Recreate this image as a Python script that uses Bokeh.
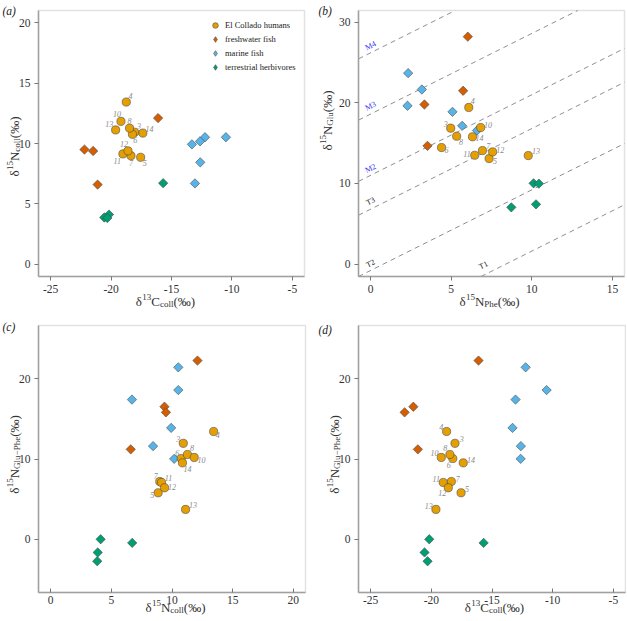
import math
from bokeh.plotting import figure
from bokeh.models import Range1d, FixedTicker, Label, Legend, LegendItem, BoxAnnotation
from bokeh.layouts import gridplot
from bokeh.embed import file_html
from bokeh.resources import INLINE
from bokeh.core.properties import value

# ---------------- data ----------------
group_names = ["El Collado humans", "freshwater fish", "marine fish", "terrestrial herbivores"]

human_ids = ["3", "4", "5", "6", "7", "8", "10", "11", "12", "13", "14"]
human_d13c_coll = [-18.05, -18.74, -17.55, -18.23, -18.35, -18.47, -19.18, -19.02, -18.60, -19.62, -17.37]
human_d15n_coll = [10.93, 13.43, 8.86, 10.76, 8.99, 11.27, 11.83, 9.14, 9.39, 11.12, 10.86]
human_d15n_phe = [4.97, 6.09, 7.35, 4.40, 6.94, 5.34, 6.83, 6.46, 7.57, 9.78, 6.32]
human_d15n_glu = [16.85, 19.42, 13.08, 14.45, 14.07, 15.85, 16.93, 13.49, 13.91, 13.45, 15.78]
human_d15n_glu_phe = [11.95, 13.42, 5.80, 10.06, 7.20, 10.56, 10.19, 7.08, 6.42, 3.73, 9.52]

fresh_d13c_coll = [-16.11, -21.48, -22.20, -21.11]
fresh_d15n_coll = [12.10, 9.38, 9.50, 6.60]
fresh_d15n_phe = [6.03, 3.34, 5.74, 3.53]
fresh_d15n_glu = [28.20, 19.79, 21.49, 14.66]
fresh_d15n_glu_phe = [22.24, 16.50, 15.80, 11.20]

marine_d13c_coll = [-12.23, -10.50, -13.06, -13.31, -12.62, -12.64]
marine_d15n_coll = [10.52, 10.52, 6.70, 9.93, 8.44, 10.18]
marine_d15n_phe = [2.33, 3.18, 2.29, 5.08, 5.68, 6.60]
marine_d15n_glu = [23.68, 21.65, 19.63, 18.88, 17.14, 16.56]
marine_d15n_glu_phe = [21.40, 18.57, 17.39, 13.87, 11.60, 10.02]

terr_d13c_coll = [-20.17, -20.56, -20.31, -15.69]
terr_d15n_coll = [4.12, 3.88, 3.84, 6.72]
terr_d15n_phe = [10.11, 8.73, 10.26, 10.44]
terr_d15n_glu = [10.01, 7.03, 7.40, 9.97]
terr_d15n_glu_phe = [0.02, -1.62, -2.71, -0.43]

# trophic-level reference lines (panel b): Glu = Phe + intercept
trophic_names = ["T1", "T2", "T3", "M2", "M3", "M4"]
trophic_intercepts = [-8.4, -0.8, 6.8, 11.0, 18.6, 26.2]

# axis extents and ticks
c13_extent = (-26, -4)
ncoll_extent_a = (-1, 21)
phe_extent = (-0.75, 15.75)
glu_extent = (-1.55, 31.45)
ncoll_extent_c = (-1, 21)
gp_extent = (-6.6, 26.6)

c13_ticks = [-25, -20, -15, -10, -5]
c13_tick_labels = ["-25", "-20", "-15", "-10", "-5"]
ncoll_ticks_a = [0, 5, 10, 15, 20]
ncoll_tick_labels_a = ["0", "5", "10", "15", "20"]
phe_ticks = [0, 5, 10, 15]
phe_tick_labels = ["0", "5", "10", "15"]
glu_ticks = [0, 10, 20, 30]
glu_tick_labels = ["0", "10", "20", "30"]
ncoll_ticks_c = [0, 5, 10, 15, 20]
ncoll_tick_labels_c = ["0", "5", "10", "15", "20"]
gp_ticks = [0, 10, 20]
gp_tick_labels = ["0", "10", "20"]

# ---------------- style ----------------
FONT = "Liberation Serif"
COL_HUMAN = "#E69F00"
COL_FRESH = "#D55E00"
COL_MARINE = "#56B4E9"
COL_TERR = "#009E73"
EDGE = "#4a4a4a"
FRAME = "#a0a0a0"
FS_MAIN = 13
FS_SCRIPT = 9

CHAR_W = {"δ": 0.50, "C": 0.667, "N": 0.722, "c": 0.444, "o": 0.5, "l": 0.278, "G": 0.722,
          "u": 0.5, "P": 0.556, "h": 0.5, "e": 0.444, "−": 0.564, "(": 0.333, ")": 0.333,
          "‰": 1.0}


def text_w(s, size):
    return sum(CHAR_W.get(ch, 0.5) for ch in s) * size


def make_fig(width, height, box_px, xext, yext, xticks, xlabels, yticks, ylabels, xtick_in=False):
    """box_px = (left, right, top, bottom) of the plot box in figure pixels (from top-left)."""
    L, R, T, B = box_px
    sx = (xext[1] - xext[0]) / (R - L)
    sy = (yext[1] - yext[0]) / (B - T)
    xr = (xext[0] - L * sx, xext[1] + (width - R) * sx)
    yr = (yext[0] - (height - B) * sy, yext[1] + T * sy)
    p = figure(width=width, height=height, x_range=Range1d(*xr), y_range=Range1d(*yr),
               output_backend="svg", toolbar_location=None, title=None,
               min_border_left=0, min_border_right=0, min_border_top=0, min_border_bottom=0)
    p.grid.visible = False
    p.outline_line_color = None
    p.background_fill_color = "white"
    p.border_fill_color = "white"
    for ax, ticks, labels, loc, ext in ((p.xaxis[0], xticks, xlabels, yext[0], xext),
                                        (p.yaxis[0], yticks, ylabels, xext[0], yext)):
        ax.fixed_location = loc
        ax.bounds = ext
        ax.ticker = FixedTicker(ticks=ticks)
        ax.major_label_overrides = {tk: lb for tk, lb in zip(ticks, labels)}
        ax.axis_line_color = FRAME
        ax.axis_line_width = 1.5
        ax.major_tick_in = 0
        ax.major_tick_out = 4
        ax.major_tick_line_color = "#777777"
        ax.minor_tick_line_color = None
        ax.major_label_text_font = FONT
        ax.major_label_text_font_size = "11.5px"
        ax.major_label_text_color = "#333333"
        ax.major_label_standoff = 4
    if xtick_in:
        p.xaxis[0].major_tick_in = 4
        p.xaxis[0].major_tick_out = 0
        p.xaxis[0].major_label_standoff = 3
    p.add_layout(BoxAnnotation(left=xext[0], right=xext[1], bottom=yext[0], top=yext[1],
                               fill_alpha=0, line_color=FRAME, line_width=1.5, level="underlay"))
    return p


def add_text(p, text, x, y, size, angle=0.0, italic=False, color="#333333"):
    p.add_layout(Label(x=x, y=y, x_units="screen", y_units="screen", text=text, angle=angle,
                       text_font=FONT, text_font_size=f"{size}px",
                       text_font_style="italic" if italic else "normal",
                       text_color=color, text_align="left", text_baseline="alphabetic"))


def rich_label(p, parts, axis, center, base):
    sizes = [FS_MAIN if k == 0 else FS_SCRIPT for _, k in parts]
    total = sum(text_w(tx, fs) for (tx, _), fs in zip(parts, sizes))
    cum = 0.0
    for (tx, k), fs in zip(parts, sizes):
        shift = {0: 0.0, 1: 4.5, -1: -2.5}[k]
        if axis == "x":
            add_text(p, tx, center - total / 2 + cum, base + shift, fs)
        else:
            add_text(p, tx, base - shift, center - total / 2 + cum, fs, angle=math.pi / 2)
        cum += text_w(tx, fs)


def draw_groups(p, hx, hy, fx, fy, mx, my, tx, ty, label_offsets):
    kw_d = dict(marker="square", angle=math.pi / 4, size=6.6, line_color=EDGE, line_width=0.6)
    p.scatter(tx, ty, fill_color=COL_TERR, **kw_d)
    p.scatter(mx, my, fill_color=COL_MARINE, **kw_d)
    p.scatter(fx, fy, fill_color=COL_FRESH, **kw_d)
    r_h = p.scatter(hx, hy, marker="circle", size=8.2, fill_color=COL_HUMAN,
                    line_color=EDGE, line_width=0.6)
    dx = [label_offsets[i][0] for i in human_ids]
    dy = [label_offsets[i][1] for i in human_ids]
    p.text(hx, hy, text=human_ids, x_offset=dx, y_offset=dy,
           text_font=value(FONT), text_font_style="italic", text_font_size="8px",
           text_color="#8a8a8a", text_align="center", text_baseline="middle")
    return r_h


# label offsets (px, y down) for the human sample numbers in each panel
offs_a = {"3": (4.3, -6.3), "4": (4.3, -5.7), "5": (4, 6), "6": (2.7, 5.7), "7": (0, 7),
          "8": (0, -7), "10": (-4, -7.3), "11": (-5.7, 6.7), "12": (-4, -7.3),
          "13": (-6.5, -6), "14": (6.7, -4.3)}
offs_b = {"3": (-5, -4.3), "4": (4, -6), "5": (6, 2.7), "6": (5, 2.7), "7": (5.7, -5),
          "8": (4.3, 5.7), "10": (7.3, -3), "11": (-7.7, -1), "12": (7.7, -1.7),
          "13": (7.7, -4.7), "14": (7, 1)}
offs_c = {"3": (-5, -4.3), "4": (4, 4), "5": (-6, 2.3), "6": (-4, -6), "7": (-4, -5.3),
          "8": (4.7, -6), "10": (7.3, 3), "11": (7, -4), "12": (7.3, -1), "13": (7.3, -4.3),
          "14": (5, 6)}
offs_d = {"3": (6.7, -4), "4": (-5.3, -4.3), "5": (6, -3.3), "6": (-4, 6), "7": (6.3, -2.3),
          "8": (-4.7, -6), "10": (-6.7, -4.7), "11": (-7, -3), "12": (-6, 5.3),
          "13": (-7.3, -3.3), "14": (7.7, -3.3)}

# ---------------- panels ----------------
W1, W2, H1, H2 = 312, 314, 310, 310
BOX_A = (38, 304, 10, 276)
BOX_B = (46, 312, 10, 276)
BOX_C = (38, 305, 15, 282)
BOX_D = (46, 313, 15, 282)

pa = make_fig(W1, H1, BOX_A, c13_extent, ncoll_extent_a,
              c13_ticks, c13_tick_labels, ncoll_ticks_a, ncoll_tick_labels_a)
pb = make_fig(W2, H1, BOX_B, phe_extent, glu_extent,
              phe_ticks, phe_tick_labels, glu_ticks, glu_tick_labels)
pc = make_fig(W1, H2, BOX_C, ncoll_extent_c, gp_extent,
              ncoll_ticks_c, ncoll_tick_labels_c, gp_ticks, gp_tick_labels, xtick_in=True)
pd = make_fig(W2, H2, BOX_D, c13_extent, gp_extent,
              c13_ticks, c13_tick_labels, gp_ticks, gp_tick_labels, xtick_in=True)

# (a)
r_h = draw_groups(pa, human_d13c_coll, human_d15n_coll, fresh_d13c_coll, fresh_d15n_coll,
                  marine_d13c_coll, marine_d15n_coll, terr_d13c_coll, terr_d15n_coll, offs_a)
# legend keys (diamond glyphs, no visible data)
kw_key = dict(marker="diamond", size=8, line_color=EDGE, line_width=0.6)
nan = float("nan")
k_f = pa.scatter(x=[nan], y=[nan], fill_color=COL_FRESH, **kw_key)
k_m = pa.scatter(x=[nan], y=[nan], fill_color=COL_MARINE, **kw_key)
k_t = pa.scatter(x=[nan], y=[nan], fill_color=COL_TERR, **kw_key)
legend = Legend(items=[LegendItem(label=n, renderers=[r], index=0)
                       for n, r in zip(group_names, [r_h, k_f, k_m, k_t])],
                location=(208, 236), border_line_color=None, background_fill_alpha=0,
                label_text_font=FONT, label_text_font_size="8.5px", label_text_color="#222222",
                glyph_width=14, glyph_height=14, label_height=14, spacing=0, padding=0,
                margin=0, label_standoff=3)
pa.add_layout(legend)

# (b) trophic lines, clipped to the plot box
bx0, bx1 = phe_extent
by0, by1 = glu_extent
x0s, y0s, x1s, y1s = [], [], [], []
for b in trophic_intercepts:
    xs, xe = max(bx0, by0 - b), min(bx1, by1 - b)
    x0s.append(xs); y0s.append(xs + b); x1s.append(xe); y1s.append(xe + b)
pb.segment(x0s, y0s, x1s, y1s, line_color="#8f8f8f", line_dash="5 4", line_width=1)
box_w_b = BOX_B[1] - BOX_B[0]
box_h_b = BOX_B[3] - BOX_B[2]
line_angle = math.atan((box_h_b / (by1 - by0)) / (box_w_b / (bx1 - bx0)))
trophic_label_x = [7.0, 0.0, 0.0, 0.0, 0.0, 0.0]
trophic_label_dy = [-10, -7, -8, -7, -8, -7]
trophic_label_col = ["#222222", "#222222", "#222222", "#3a3af0", "#3a3af0", "#3a3af0"]
pb.text(trophic_label_x, [x + b for x, b in zip(trophic_label_x, trophic_intercepts)],
        text=trophic_names, angle=line_angle, y_offset=trophic_label_dy,
        text_color=trophic_label_col, text_font=value(FONT), text_font_size="8px",
        text_align="center", text_baseline="middle")
draw_groups(pb, human_d15n_phe, human_d15n_glu, fresh_d15n_phe, fresh_d15n_glu,
            marine_d15n_phe, marine_d15n_glu, terr_d15n_phe, terr_d15n_glu, offs_b)

# (c)
draw_groups(pc, human_d15n_coll, human_d15n_glu_phe, fresh_d15n_coll, fresh_d15n_glu_phe,
            marine_d15n_coll, marine_d15n_glu_phe, terr_d15n_coll, terr_d15n_glu_phe, offs_c)
# (d)
draw_groups(pd, human_d13c_coll, human_d15n_glu_phe, fresh_d13c_coll, fresh_d15n_glu_phe,
            marine_d13c_coll, marine_d15n_glu_phe, terr_d13c_coll, terr_d15n_glu_phe, offs_d)

# axis labels with super/subscripts (figure pixels, y measured from the bottom)
lab_c13 = [("δ", 0), ("13", 1), ("C", 0), ("coll", -1), ("(‰)", 0)]
lab_ncoll = [("δ", 0), ("15", 1), ("N", 0), ("coll", -1), ("(‰)", 0)]
lab_phe = [("δ", 0), ("15", 1), ("N", 0), ("Phe", -1), ("(‰)", 0)]
lab_glu = [("δ", 0), ("15", 1), ("N", 0), ("Glu", -1), ("(‰)", 0)]
lab_gp = [("δ", 0), ("15", 1), ("N", 0), ("Glu−Phe", -1), ("(‰)", 0)]

rich_label(pa, lab_c13, "x", 165, 9)
rich_label(pa, lab_ncoll, "y", 164, 14)
rich_label(pb, lab_phe, "x", 177, 9)
rich_label(pb, lab_glu, "y", 190, 15)
rich_label(pc, lab_ncoll, "x", 175, 13)
rich_label(pc, lab_gp, "y", 166, 14)
rich_label(pd, lab_c13, "x", 182, 13)
rich_label(pd, lab_gp, "y", 166, 22)

add_text(pa, "(a)", 2, 300, 11.5, italic=True, color="#222222")
add_text(pb, "(b)", 6, 300, 11.5, italic=True, color="#222222")
add_text(pc, "(c)", 2, 294, 11.5, italic=True, color="#222222")
add_text(pd, "(d)", 6, 291, 11.5, italic=True, color="#222222")

grid = gridplot([[pa, pb], [pc, pd]], toolbar_location=None)
open("out.html", "w").write(file_html(grid, INLINE))
